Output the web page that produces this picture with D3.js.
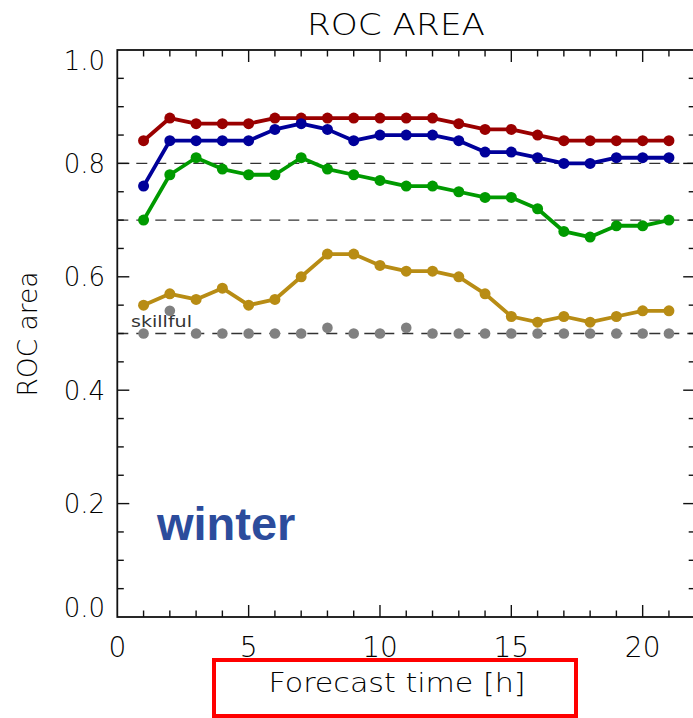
<!DOCTYPE html>
<html><head><meta charset="utf-8">
<script src="https://cdn.jsdelivr.net/npm/d3@7"></script>
<style>
html,body{margin:0;padding:0;background:#fff;}
svg{display:block;}
</style></head>
<body>
<svg id="chart" width="693" height="718"></svg>
<script>
// ---- data ----
const forecastHours = d3.range(1, 22);
const seriesNames = ["red", "blue", "green", "gold"];
const redValues   = [0.84,0.88,0.87,0.87,0.87,0.88,0.88,0.88,0.88,0.88,0.88,0.88,0.87,0.86,0.86,0.85,0.84,0.84,0.84,0.84,0.84];
const blueValues  = [0.76,0.84,0.84,0.84,0.84,0.86,0.87,0.86,0.84,0.85,0.85,0.85,0.84,0.82,0.82,0.81,0.80,0.80,0.81,0.81,0.81];
const greenValues = [0.70,0.78,0.81,0.79,0.78,0.78,0.81,0.79,0.78,0.77,0.76,0.76,0.75,0.74,0.74,0.72,0.68,0.67,0.69,0.69,0.70];
const goldValues  = [0.55,0.57,0.56,0.58,0.55,0.56,0.60,0.64,0.64,0.62,0.61,0.61,0.60,0.57,0.53,0.52,0.53,0.52,0.53,0.54,0.54];
const greyValues  = [0.50,0.54,0.50,0.50,0.50,0.50,0.50,0.51,0.50,0.50,0.51,0.50,0.50,0.50,0.50,0.50,0.50,0.50,0.50,0.50,0.50];
const refLines = [0.8, 0.7, 0.5];
const xTickLabels = [0, 5, 10, 15, 20];
const yTickLabels = ["0.0","0.2","0.4","0.6","0.8","1.0"];
const seriesColors = ["#9a0000", "#00009a", "#009a00", "#b88c14"];

// ---- layout ----
const svg = d3.select("#chart");
const L = 117.3, R = 695.2, T = 50, B = 617;
const x = d3.scaleLinear().domain([0, 22]).range([L, R]);
const y = d3.scaleLinear().domain([0, 1]).range([B, T]);
const ink = "#111";
const axisFont = "'DejaVu Sans', 'Noto Sans', sans-serif";

// reference dashed lines
svg.append("g").selectAll("line").data(refLines).join("line")
  .attr("x1", L).attr("x2", R)
  .attr("y1", d => y(d)).attr("y2", d => y(d))
  .attr("stroke", "#333").attr("stroke-width", 1.4)
  .attr("stroke-dasharray", "11,8");

// axes with minor/major ticks
function tickLines(g, vals, isMajor, orient) {
  const minorLen = 6.5, majorLen = 12;
  g.selectAll("line").data(vals).join("line").each(function(d) {
    const len = isMajor(d) ? majorLen : minorLen;
    const s = d3.select(this).attr("stroke", ink).attr("stroke-width", 1.4);
    if (orient === "bottom") s.attr("x1", x(d)).attr("x2", x(d)).attr("y1", B).attr("y2", B - len);
    if (orient === "top")    s.attr("x1", x(d)).attr("x2", x(d)).attr("y1", T).attr("y2", T + len);
    if (orient === "left")   s.attr("y1", y(d)).attr("y2", y(d)).attr("x1", L).attr("x2", L + len);
    if (orient === "right")  s.attr("y1", y(d)).attr("y2", y(d)).attr("x1", R).attr("x2", R - len);
  });
}
const xt = d3.range(1, 22);
const yt = d3.range(1, 20).map(i => +(i * 0.05).toFixed(2));
const xMaj = d => d % 5 === 0;
const yMaj = d => Math.abs(d * 5 - Math.round(d * 5)) < 1e-6;
tickLines(svg.append("g"), xt, xMaj, "bottom");
tickLines(svg.append("g"), xt, xMaj, "top");
tickLines(svg.append("g"), yt, yMaj, "left");
tickLines(svg.append("g"), yt, yMaj, "right");

// frame
svg.append("rect").attr("x", L).attr("y", T).attr("width", R - L).attr("height", B - T)
  .attr("fill", "none").attr("stroke", ink).attr("stroke-width", 1.8);

// tick labels
svg.append("g").selectAll("text").data(xTickLabels).join("text")
  .attr("x", d => x(d)).attr("y", 657)
  .attr("text-anchor", "middle").style("font-family", axisFont).style("font-size", "28px").style("font-weight", 300)
  .attr("fill", "#000").text(d => d);
svg.append("g").selectAll("text").data(yTickLabels).join("text")
  .attr("x", 105)
  .attr("y", d => Math.min(Math.max(y(+d), T + 10), B - 10) + 9.5)
  .attr("text-anchor", "end").style("font-family", axisFont).style("font-size", "26px").style("font-weight", 300)
  .attr("fill", "#000").text(d => d);

// titles
svg.append("text").attr("x", 396).attr("y", 35).attr("text-anchor", "middle")
  .style("font-family", axisFont).style("font-size", "31px").style("font-weight", 300)
  .attr("textLength", 178).attr("lengthAdjust", "spacingAndGlyphs").attr("fill", "#000").text("ROC AREA");
svg.append("text").attr("transform", "translate(37,334) rotate(-90)")
  .attr("text-anchor", "middle").style("font-family", axisFont).style("font-size", "26px").style("font-weight", 300)
  .attr("textLength", 125).attr("lengthAdjust", "spacingAndGlyphs")
  .attr("fill", "#000").text("ROC area");
svg.append("text").attr("x", 397).attr("y", 692).attr("text-anchor", "middle")
  .style("font-family", axisFont).style("font-size", "27px").style("font-weight", 300)
  .attr("textLength", 257).attr("lengthAdjust", "spacingAndGlyphs").attr("fill", "#000").text("Forecast time [h]");
svg.append("rect").attr("x", 214).attr("y", 660).attr("width", 362).attr("height", 56)
  .attr("fill", "none").attr("stroke", "#ff0000").attr("stroke-width", 4);

// skillful label
svg.append("text").attr("x", 131).attr("y", 327)
  .style("font-family", axisFont).style("font-size", "15px")
  .attr("fill", "#333").attr("textLength", 61).attr("lengthAdjust", "spacingAndGlyphs")
  .text("skillful");

// grey dots
svg.append("g").selectAll("circle").data(greyValues).join("circle")
  .attr("cx", (d, i) => x(forecastHours[i])).attr("cy", d => y(d))
  .attr("r", 5.3).attr("fill", "#808080");

// series
const allSeries = [redValues, blueValues, greenValues, goldValues];
const line = d3.line().x((d, i) => x(forecastHours[i])).y(d => y(d));
allSeries.forEach((vals, k) => {
  const g = svg.append("g").attr("class", "series-" + seriesNames[k]);
  g.append("path").attr("d", line(vals)).attr("fill", "none")
    .attr("stroke", seriesColors[k]).attr("stroke-width", 3.8).attr("stroke-linejoin", "round");
  g.selectAll("circle").data(vals).join("circle")
    .attr("cx", (d, i) => x(forecastHours[i])).attr("cy", d => y(d))
    .attr("r", 5.5).attr("fill", seriesColors[k]);
});

// season label
svg.append("text").attr("x", 157).attr("y", 540)
  .style("font-family", "'Liberation Sans', Arial, sans-serif")
  .style("font-weight", "bold").style("font-size", "47px").attr("fill", "#2c4c9c")
  .text("winter");
</script>
</body></html>
